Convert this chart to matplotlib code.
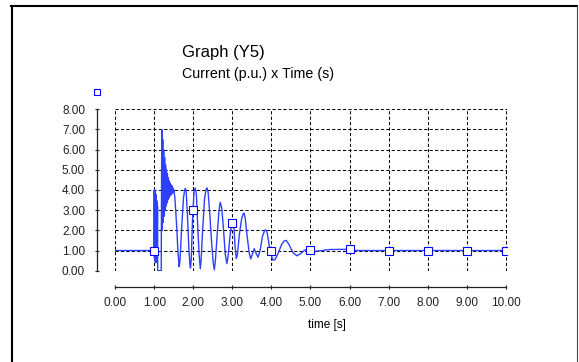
import matplotlib
matplotlib.use("Agg")
import matplotlib.pyplot as plt
from matplotlib.lines import Line2D

plt.rcParams['font.family'] = ['Liberation Sans', 'DejaVu Sans']
plt.rcParams['lines.scale_dashes'] = False

# ---- data ----
time_s = [0.0, 1.0,
          1.002, 1.008, 1.014, 1.020, 1.026, 1.032, 1.038, 1.044, 1.050, 1.056,
          1.062, 1.068, 1.074, 1.080, 1.086, 1.090, 1.18,
          1.195, 1.207, 1.219, 1.231, 1.243, 1.255, 1.267, 1.279, 1.291, 1.303,
          1.315, 1.327, 1.339, 1.351, 1.363, 1.375, 1.387, 1.399, 1.411, 1.423,
          1.435, 1.447, 1.459, 1.471, 1.483, 1.495, 1.505,
          1.53, 1.57, 1.61, 1.64, 1.66, 1.70, 1.75, 1.78, 1.80, 1.82, 1.85,
          1.89, 1.92, 1.93, 1.95, 1.98, 2.02, 2.05, 2.08, 2.11, 2.15, 2.18,
          2.20, 2.24, 2.29, 2.33, 2.35, 2.38, 2.42, 2.47, 2.51, 2.54, 2.57,
          2.62, 2.66, 2.69, 2.73, 2.78, 2.82, 2.86, 2.89, 2.94, 2.98, 3.01,
          3.04, 3.07, 3.10, 3.13, 3.18, 3.24, 3.28, 3.30, 3.33, 3.38, 3.43,
          3.47, 3.51, 3.56, 3.61, 3.66, 3.71, 3.77, 3.83, 3.86, 3.89, 3.94,
          3.99, 4.04, 4.09, 4.17, 4.26, 4.33, 4.38, 4.45, 4.55, 4.65, 4.75,
          4.85, 4.92, 5.0, 5.07, 5.15, 5.3, 5.4, 5.5, 6.0, 6.05, 10.0]
current_pu = [1.0, 1.0,
              4.0, 0.6, 4.0, 0.5, 3.9, 0.4, 3.8, 0.4, 3.7, 0.5,
              3.5, 0.6, 3.4, 0.8, 3.2, 0.0, 0.0,
              7.0, 2.0, 6.5, 2.4, 6.0, 2.7, 5.6, 3.0, 5.25, 3.2,
              5.0, 3.35, 4.8, 3.5, 4.6, 3.6, 4.45, 3.7, 4.35, 3.75,
              4.25, 3.8, 4.2, 3.85, 4.1, 3.9, 4.0,
              3.6, 2.4, 0.9, 0.2, 0.5, 2.0, 3.6, 4.0, 4.08, 3.9, 2.8,
              1.0, 0.2, 0.13, 0.6, 2.5, 3.9, 4.1, 3.8, 2.4, 0.8, 0.1,
              0.5, 2.0, 3.6, 4.05, 4.1, 3.9, 2.9, 1.4, 0.4, 0.05, 0.6,
              2.0, 3.0, 3.39, 3.1, 1.9, 0.8, 0.35, 0.7, 1.7, 2.3, 2.5,
              2.2, 1.2, 0.6, 0.8, 1.8, 2.6, 2.82, 2.85, 2.6, 1.7, 0.9,
              0.58, 0.8, 1.09, 0.85, 0.67, 1.0, 1.7, 2.0, 2.02, 1.9, 1.3,
              0.8, 0.52, 0.55, 0.85, 1.3, 1.48, 1.5, 1.3, 0.9, 0.74, 0.85,
              1.02, 1.07, 1.04, 0.92, 0.97, 1.0, 1.03, 1.05, 1.06, 1.0, 1.0]

marker_t = [1, 2, 3, 4, 5, 6, 7, 8, 9, 10]
marker_v = [1.0, 3.0, 2.35, 1.0, 1.04, 1.06, 1.0, 1.0, 1.0, 1.0]

x_ticks = [0, 1, 2, 3, 4, 5, 6, 7, 8, 9, 10]
y_ticks = [0, 1, 2, 3, 4, 5, 6, 7, 8]
title = "Graph (Y5)"
subtitle = "Current (p.u.) x Time (s)"
x_label = "time [s]"

W, H = 579, 362
fig = plt.figure(figsize=(W / 100, H / 100), dpi=100)

def fx(px):
    return px / W

def fy(py):
    return 1 - py / H

ax = fig.add_axes([fx(114.5), fy(271), fx(506.5) - fx(114.5), fy(109) - fy(271)])
ax.set_xlim(-0.015, 10.015)
ax.set_ylim(-0.015, 8.015)

blue_line = '#2f3fff'
blue_mark = '#0000ff'
ax.plot(time_s, current_pu, color=blue_line, lw=1.0, zorder=3)
ax.plot(marker_t, marker_v, linestyle='none', marker='s', ms=5.2,
        mfc='white', mec=blue_mark, mew=0.8, zorder=4)

ax.set_xticks(x_ticks)
ax.set_yticks(y_ticks)
ax.set_xticklabels([f"{v:.2f}" for v in x_ticks])
ax.set_yticklabels([f"{v:.2f}" for v in y_ticks])
ax.grid(True, color='black', linestyle=(0, (2.3, 1.6)), linewidth=0.75)
ax.set_axisbelow(True)

for s in ['top', 'right']:
    ax.spines[s].set_visible(False)
ax.spines['left'].set_position(('outward', 12.6))
ax.spines['bottom'].set_position(('outward', 11.7))
ax.spines['left'].set_bounds(0, 8)
ax.spines['bottom'].set_bounds(0, 10)
for s in ['left', 'bottom']:
    ax.spines[s].set_linewidth(0.9)
    ax.spines[s].set_color('#222222')

ax.tick_params(axis='both', direction='inout', length=3.2, width=0.8,
               labelsize=8.5, colors='#222222')
ax.tick_params(axis='y', pad=7.0)
ax.tick_params(axis='x', pad=5.4)

fig.text(fx(182), fy(57.3), title, fontsize=12, ha='left', va='baseline')
fig.text(fx(182), fy(78.3), subtitle, fontsize=10.3, ha='left', va='baseline')
fig.text(fx(308), fy(328), x_label, fontsize=8.5, ha='left', va='baseline')

# legend key (marker without text)
fig.add_artist(Line2D([fx(97.3)], [fy(91.7)], marker='s', ms=5.0,
                      mfc='white', mec=blue_mark, mew=0.8, linestyle='none'))

# outer frame
fig.add_artist(Line2D([fx(12), fx(12)], [fy(6), 0], color='black', lw=1.5))
fig.add_artist(Line2D([fx(11.3), fx(577)], [fy(6), fy(6)], color='black', lw=1.5))
fig.add_artist(Line2D([fx(577), fx(577)], [fy(6), 0], color='#444444', lw=0.8))

fig.savefig('out.png', dpi=100, facecolor='white')
